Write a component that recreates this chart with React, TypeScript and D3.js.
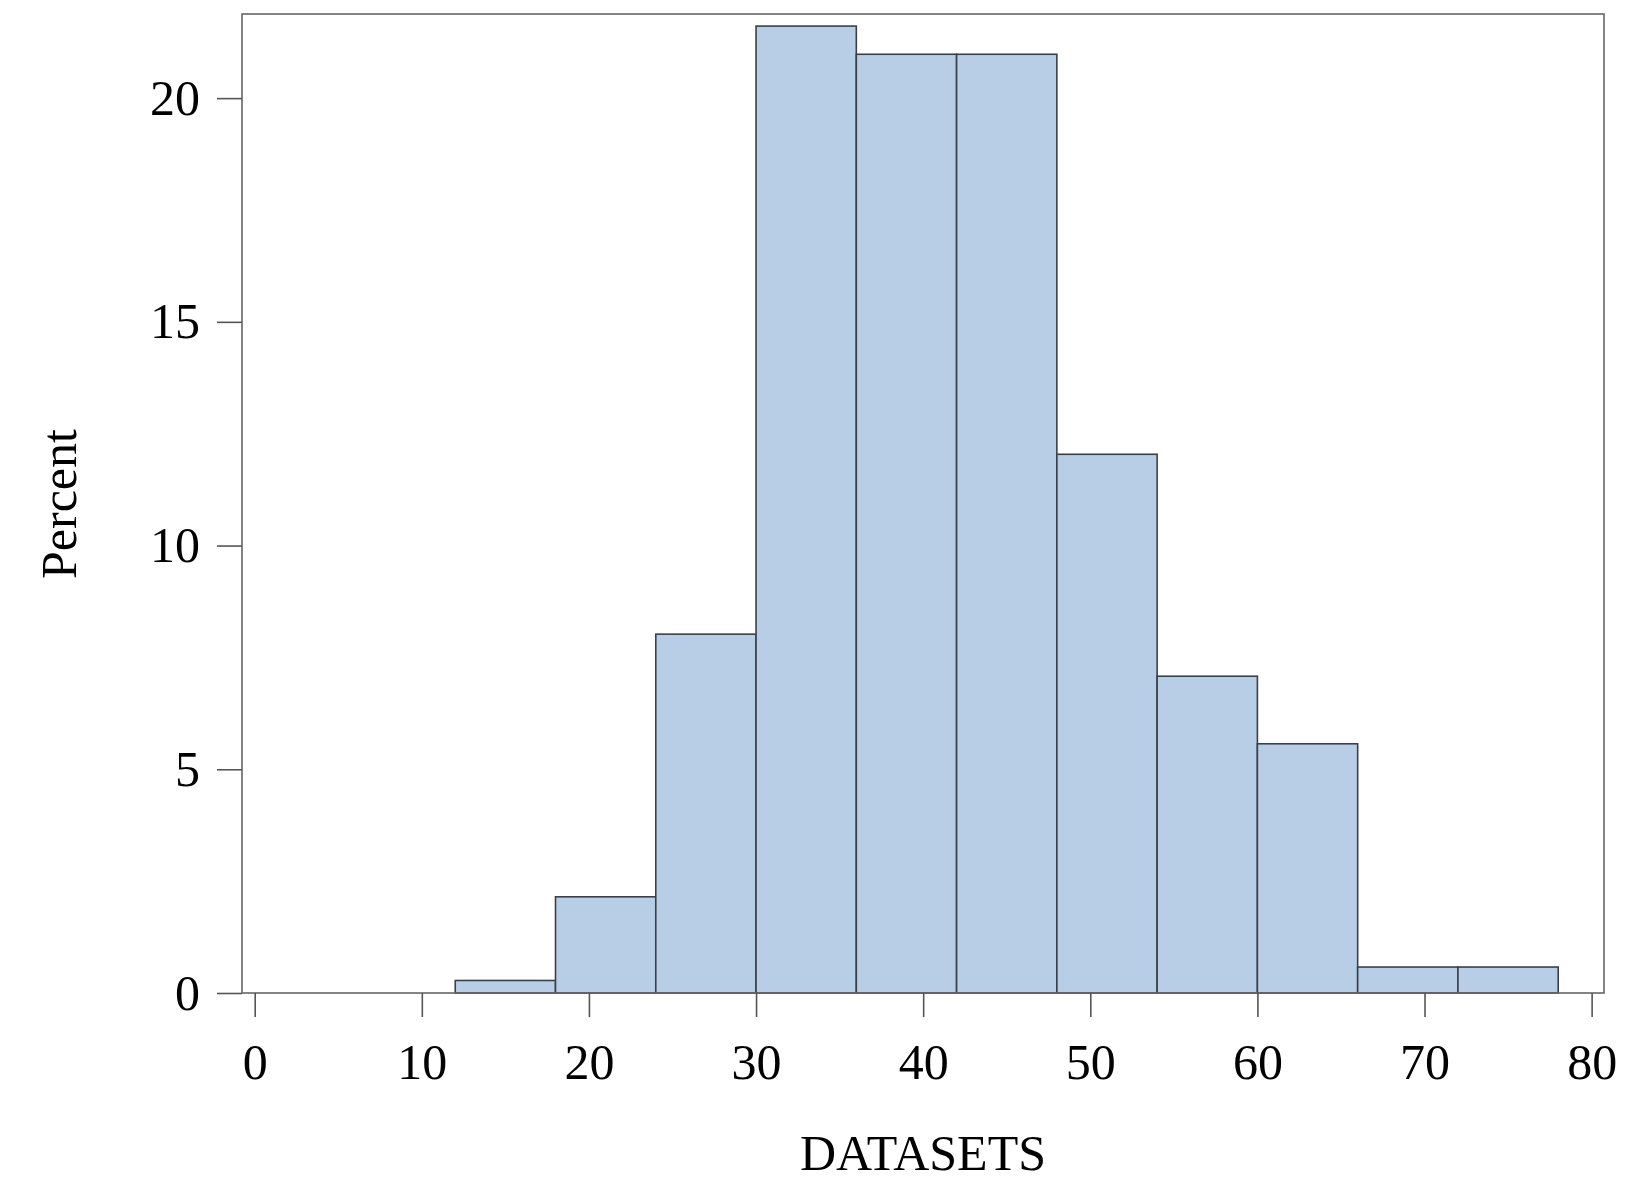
import React, { useEffect, useRef } from 'react';
import * as d3 from 'd3';

// histogram bins (DATASETS), 6 wide each, and the percent in each
const binStarts = [12, 18, 24, 30, 36, 42, 48, 54, 60, 66, 72];
const binWidth = 6;
const percents = [0.28, 2.15, 8.02, 21.61, 20.98, 20.98, 12.04, 7.08, 5.57, 0.58, 0.58];
const xTicks = [0, 10, 20, 30, 40, 50, 60, 70, 80];
const yTicks = [0, 5, 10, 15, 20];

const W = 1635;
const H = 1182;

export default function App() {
    const svgRef = useRef<SVGSVGElement>(null);

    useEffect(() => {
        const svg = d3.select(svgRef.current);
        svg.selectAll('*').remove();

        const left = 242, right = 1604, top = 14, bottom = 993;
        const font = '"Liberation Serif", "Times New Roman", serif';

        const x = d3.scaleLinear().domain([-0.76, 80.74]).range([left, right]);
        const y = d3.scaleLinear().domain([0, 21.88]).range([bottom, top]);

        const bins = binStarts.map((s, i) => ({ x0: s, x1: s + binWidth, v: percents[i] }));

        svg.append('g')
            .selectAll('rect')
            .data(bins)
            .join('rect')
            .attr('x', (d) => x(d.x0))
            .attr('y', (d) => y(d.v))
            .attr('width', (d) => x(d.x1) - x(d.x0))
            .attr('height', (d) => y(0) - y(d.v))
            .attr('fill', '#b8cee7')
            .attr('stroke', '#3b4048')
            .attr('stroke-width', 1.6);

        // frame
        svg.append('rect')
            .attr('x', left)
            .attr('y', top)
            .attr('width', right - left)
            .attr('height', bottom - top)
            .attr('fill', 'none')
            .attr('stroke', '#666')
            .attr('stroke-width', 1.6);

        const xAxis = d3.axisBottom(x).tickValues(xTicks).tickSize(24).tickPadding(26).tickFormat(d3.format('d'));
        const gx = svg.append('g').attr('transform', `translate(0,${bottom})`).call(xAxis);
        gx.select('.domain').remove();

        const yAxis = d3.axisLeft(y).tickValues(yTicks).tickSize(25).tickPadding(17).tickFormat(d3.format('d'));
        const gy = svg.append('g').attr('transform', `translate(${left},0)`).call(yAxis);
        gy.select('.domain').remove();

        [gx, gy].forEach((g) => {
            g.selectAll('line').attr('stroke', '#555').attr('stroke-width', 1.6);
            g.selectAll('text')
                .attr('fill', '#000')
                .style('font-family', font)
                .style('font-size', '50px');
        });

        svg.append('text')
            .attr('x', (left + right) / 2)
            .attr('y', 1170)
            .attr('text-anchor', 'middle')
            .attr('fill', '#000')
            .style('font-family', font)
            .style('font-size', '50px')
            .text('DATASETS');

        svg.append('text')
            .attr('transform', `translate(76,504) rotate(-90)`)
            .attr('text-anchor', 'middle')
            .attr('fill', '#000')
            .style('font-family', font)
            .style('font-size', '50px')
            .text('Percent');
    }, []);

    return <svg ref={svgRef} width={W} height={H} style={{ position: 'absolute', left: 0, top: 0, background: '#fff' }} />;
}
